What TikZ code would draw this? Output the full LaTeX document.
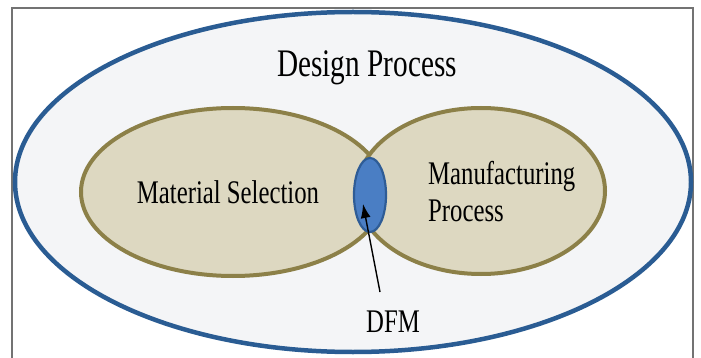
\documentclass[tikz,border=0pt]{standalone}
\usepackage{fontspec}
\setmainfont{Liberation Serif}
\usepackage{graphicx}
\usetikzlibrary{shapes.geometric,arrows.meta}
\definecolor{outerblue}{RGB}{42,92,147}
\definecolor{outerfill}{RGB}{244,245,247}
\definecolor{venolive}{RGB}{140,128,72}
\definecolor{venfill}{RGB}{221,216,193}
\definecolor{dfmfill}{RGB}{74,126,196}
\definecolor{dfmline}{RGB}{46,92,150}
\definecolor{framegray}{RGB}{115,115,115}
\newcommand{\sqz}[1]{\scalebox{0.75}[1]{#1}}
\begin{document}
\begin{tikzpicture}[x=1pt,y=-1pt,
  bigell/.style={ellipse, draw=outerblue, line width=4.5pt, fill=outerfill, inner sep=0pt},
  setell/.style={ellipse, draw=venolive, line width=4pt, fill=venfill, inner sep=0pt},
  dfmell/.style={ellipse, draw=dfmline, line width=2.2pt, fill=dfmfill, inner sep=0pt},
  lbl/.style={inner sep=0pt, font=\fontsize{33}{37}\selectfont},
  ttl/.style={inner sep=0pt, font=\fontsize{39}{44}\selectfont},
  pointer/.style={-{Latex[length=14pt,width=10pt]}, line width=1.4pt, black}
]
\useasboundingbox (0,0) rectangle (701,358);
\clip (0,0) rectangle (701,358);
\fill[white] (0,0) rectangle (701,358);
\draw[framegray, line width=1.5pt] (12,370) -- (12,8) -- (693,8) -- (693,370);
\node[bigell, minimum width=676pt, minimum height=340pt] (outer) at (353,182) {};
\node[setell, minimum width=304pt, minimum height=168pt] (mat) at (233,192) {};
\node[setell, minimum width=248pt, minimum height=166pt] (man) at (481,191) {};
\node[dfmell, minimum width=32pt, minimum height=74pt] (dfm) at (370,195) {};
\node[ttl, anchor=base] (title) at (367,77) {\sqz{Design Process}};
\node[lbl, anchor=base] (matlbl) at (228,204) {\sqz{Material Selection}};
\node[lbl, anchor=base west] (manlbl) at (428,185) {\sqz{\begin{tabular}[t]{@{}l@{}}Manufacturing\\Process\end{tabular}}};
\node[lbl, anchor=base] (dfmlbl) at (393,332) {\sqz{DFM}};
\coordinate (tail) at (380,292);
\coordinate (tip) at (363,204);
\draw[pointer] (tail) -- (tip);
\end{tikzpicture}
\end{document}
